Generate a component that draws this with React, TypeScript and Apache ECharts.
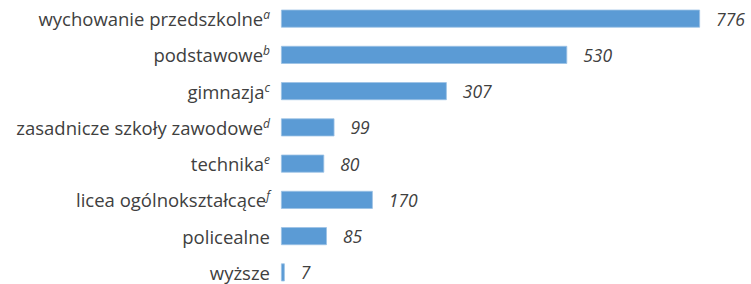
import React, { useEffect, useRef } from "react";
import * as echarts from "echarts";

const categories = [
  "wychowanie przedszkolne",
  "podstawowe",
  "gimnazja",
  "zasadnicze szkoły zawodowe",
  "technika",
  "licea ogólnokształcące",
  "policealne",
  "wyższe",
];
const superscripts = ["a", "b", "c", "d", "e", "f", "", ""];
const values = [776, 530, 307, 99, 80, 170, 85, 7];

export default function App() {
  const ref = useRef<HTMLDivElement>(null);
  useEffect(() => {
    if (!ref.current) return;
    const chart = echarts.init(ref.current, null, { renderer: "svg" });
    const font = "'Open Sans', sans-serif";
    chart.setOption({
      animation: false,
      grid: { left: 281, width: 432, top: 0.5, height: 290, containLabel: false },
      xAxis: {
        type: "value",
        min: 0,
        max: 800,
        show: false,
      },
      yAxis: {
        type: "category",
        inverse: true,
        data: categories,
        axisLine: { show: false },
        axisTick: { show: false },
        splitLine: { show: false },
        axisLabel: {
          margin: 11,
          formatter: (v: string) => {
            const i = categories.indexOf(v);
            const s = superscripts[i];
            return s ? `{n|${v}}{s|${s}}` : `{n|${v}}`;
          },
          rich: {
            n: { fontFamily: font, fontSize: 18.5, lineHeight: 18, color: "#404040" },
            s: {
              fontFamily: font,
              fontSize: 12,
              fontStyle: "italic",
              color: "#404040",
              padding: [0, 0, 8, 0],
            },
          },
        },
      },
      series: [
        {
          type: "bar",
          data: values,
          barWidth: 18,
          itemStyle: { color: "#5B9BD5", borderColor: "#9CC2E5", borderWidth: 0.8 },
          label: {
            show: true,
            position: "right",
            distance: 16,
            fontFamily: font,
            fontSize: 17.5,
            lineHeight: 18,
            fontStyle: "italic",
            color: "#404040",
          },
        },
      ],
    });
    return () => chart.dispose();
  }, []);
  return (
    <div style={{ position: "absolute", left: 0, top: 0, width: 751, height: 284, overflow: "hidden", background: "#fff" }}>
      <div ref={ref} style={{ width: 751, height: 300 }} />
    </div>
  );
}
